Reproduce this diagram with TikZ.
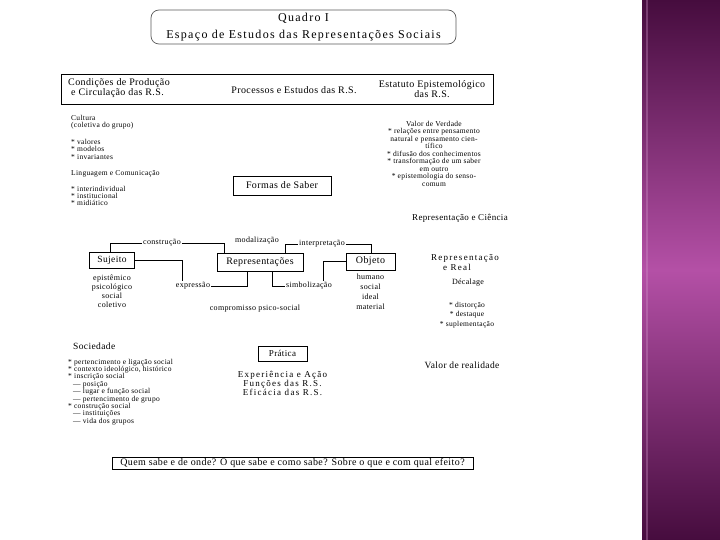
\documentclass[tikz,border=0pt]{standalone}
\usepackage{fontspec}
\setmainfont{Liberation Serif}
\newfontfamily\spfont[LetterSpace=4]{Liberation Serif}
\newfontfamily\titlefont[LetterSpace=11]{Liberation Serif}
\newfontfamily\widefont[LetterSpace=14]{Liberation Serif}
\usetikzlibrary{positioning}
\definecolor{bandtop}{RGB}{70,12,62}
\definecolor{bandmid}{RGB}{180,80,166}
\definecolor{titlegray}{RGB}{90,90,90}

\begin{document}
\begin{tikzpicture}[
  x=1pt, y=-1pt,
  every node/.style={inner sep=1pt},
  box/.style={draw, line width=0.9pt, inner sep=0pt, font=\spfont\fontsize{10}{10}\selectfont},
  link/.style={draw, line width=0.6pt},
  lbl/.style={font=\spfont\fontsize{8}{8}\selectfont},
  txt/.style={font=\spfont\fontsize{9.5}{9.5}\selectfont},
  hdtxt/.style={font=\spfont\fontsize{10}{10}\selectfont},
  lst/.style={font=\spfont\fontsize{7.5}{7.3}\selectfont, align=left, anchor=north west},
  clst/.style={font=\spfont\fontsize{7.5}{7.5}\selectfont, align=center, anchor=north},
  desc/.style={font=\spfont\fontsize{8}{9}\selectfont, align=center},
  wide/.style={font=\widefont\fontsize{9}{10}\selectfont, align=center}]

  \useasboundingbox (0,0) rectangle (720,540);
  \fill[white] (0,0) rectangle (642,540);

  % title and header
  \node[draw=titlegray, line width=0.7pt, rounded corners=8pt,
        minimum width=305pt, minimum height=34pt, align=center,
        font=\titlefont\fontsize{12}{17}\selectfont] (title) at (303.5,27)
        {Quadro I\\Espaço de Estudos das Representações Sociais};
  \node[box, minimum width=432pt, minimum height=30pt] (hdr) at (277,89) {};
  \node[hdtxt, align=left, anchor=north west] (cond) at (67,77.5)
        {Condições de Produção\\\hspace*{3pt}e Circulação das R.S.};
  \node[hdtxt] (proc) at (294,90) {Processos e Estudos das R.S.};
  \node[hdtxt, align=center, anchor=north] (estat) at (432,79.5)
        {Estatuto Epistemológico\\das R.S.};

  % upper columns
  \node[lst] (cult) at (70,113.6)
        {Cultura\\(coletiva do grupo)\\[9.8pt]* valores\\* modelos\\* invariantes\\[8.8pt]%
         Linguagem e Comunicação\\[8.8pt]* interindividual\\* institucional\\* midiático};
  \node[clst] (verd) at (434,119.6)
        {Valor de Verdade\\* relações entre pensamento\\natural e pensamento cien-\\tífico\\%
         * difusão dos conhecimentos\\* transformação de um saber\\em outro\\%
         * epistemologia do senso-\\comum};
  \node[box, minimum width=98pt, minimum height=19pt] (formas) at (282,185.5) {Formas de Saber};
  \node[txt, font=\spfont\fontsize{9}{9}\selectfont] (repc) at (460,218) {Representação e Ciência};

  % vertices
  \node[box, font=\spfont\fontsize{9.5}{9.5}\selectfont, minimum width=45pt, minimum height=16pt] (suj) at (112,260) {Sujeito};
  \node[box, minimum width=86pt, minimum height=18pt] (rep) at (260,262) {Representações};
  \node[box, minimum width=49pt, minimum height=17pt] (obj) at (370.5,261.5) {Objeto};

  % labels on the links
  \node[lbl] (constr) at (162,243) {construção};
  \node[lbl] (modal)  at (257,241) {modalização};
  \node[lbl] (interp) at (322,244) {interpretação};
  \node[lbl] (expr)   at (193,286) {expressão};
  \node[lbl] (simb)   at (309,286) {simbolização};
  \node[lbl] (comp)   at (255,309) {compromisso psico-social};

  % links
  \draw[link] ([xshift=-2pt]suj.north) |- (constr.west);
  \draw[link] (constr.east) -| ([xshift=8pt]rep.north west);
  \draw[link] ([xshift=25pt]rep.north) |- (interp.west);
  \draw[link] (interp.east) -| ([xshift=1pt]obj.north);
  \draw[link] (suj.east) -| ([xshift=-11pt]expr.north);
  \draw[link] (expr.east) -| ([xshift=-13pt]rep.south);
  \draw[link] ([xshift=12pt]rep.south) |- (simb.west);
  \draw[link] (obj.west) -| ([xshift=14pt]simb.north);

  \node[desc, below=5pt of suj] (sujdesc) {epistêmico\\psicológico\\social\\coletivo};
  \node[desc, font=\spfont\fontsize{8}{10}\selectfont, below=2.5pt of obj] (objdesc)
        {humano\\social\\ideal\\material};

  % right middle
  \node[wide, align=left, anchor=north] (rreal) at (465,253)
        {Representação\\\hspace*{12pt}e Real};
  \node[lbl] (decal) at (468,283) {Décalage};
  \node[clst, font=\spfont\fontsize{7.5}{9.5}\selectfont] (distl) at (467,300.6)
        {* distorção\\* destaque\\* suplementação};

  % lower part
  \node[txt, anchor=west] (soc) at (72,346) {Sociedade};
  \node[lst, font=\spfont\fontsize{7.5}{7.4}\selectfont] (socl) at (67,357.6)
        {* pertencimento e ligação social\\* contexto ideológico, histórico\\* inscrição social\\%
         \hspace*{5pt}— posição\\\hspace*{5pt}— lugar e função social\\%
         \hspace*{5pt}— pertencimento de grupo\\* construção social\\%
         \hspace*{5pt}— instituições\\\hspace*{5pt}— vida dos grupos};
  \node[box, font=\spfont\fontsize{9}{9}\selectfont, minimum width=49pt, minimum height=15pt] (prat) at (282.5,353.5) {Prática};
  \node[wide, font=\widefont\fontsize{9}{8}\selectfont, below=8.5pt of prat] (exper)
        {Experiência e Ação\\Funções das R.S.\\Eficácia das R.S.};
  \node[txt] (vreal) at (462,365) {Valor de realidade};

  \node[box, line width=0.8pt, minimum width=361pt, minimum height=12pt, inner sep=1pt] (quem) at (292.5,463.5)
        {Quem sabe e de onde? O que sabe e como sabe? Sobre o que e com qual efeito?};

  % side band
  \shade[top color=bandtop, bottom color=bandtop, middle color=bandmid] (642,0) rectangle (720,540);
  \draw[bandmid!60!white, opacity=0.35, line width=1.5pt] (647,0) -- (647,540);
\end{tikzpicture}
\end{document}
